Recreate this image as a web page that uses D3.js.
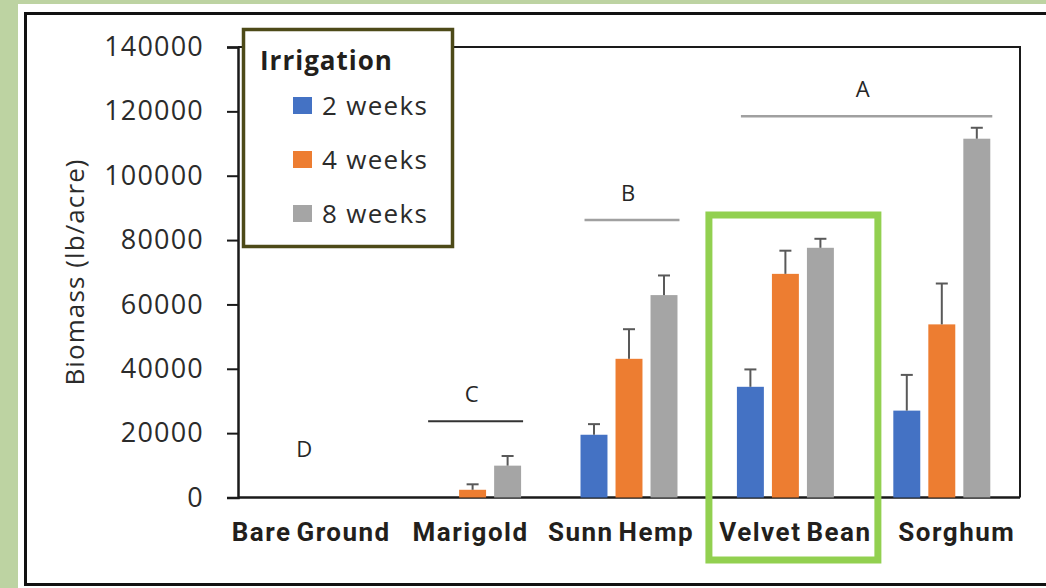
<!DOCTYPE html>
<html>
<head>
<meta charset="utf-8">
<script src="https://cdn.jsdelivr.net/npm/d3@7"></script>
<style>
  body { margin: 0; background: #fff; }
  svg { display: block; }
</style>
</head>
<body>
<div id="chart"></div>
<script>
// chart values
var crops = ["Bare Ground", "Marigold", "Sunn Hemp", "Velvet Bean", "Sorghum"];
var series = ["2 weeks", "4 weeks", "8 weeks"];
var colors = ["#4472c4", "#ed7d31", "#a5a5a5"];
var week2 = [0, 0, 19500, 34400, 27000];
var week4 = [0, 2400, 43100, 69500, 53800];
var week8 = [0, 9900, 62900, 77600, 111500];
var err2 = [0, 0, 3300, 5400, 11100];
var err4 = [0, 1700, 9200, 7200, 12700];
var err8 = [0, 3000, 6100, 2800, 3400];
var yTicks = [0, 20000, 40000, 60000, 80000, 100000, 120000, 140000];
// significance groups
var sigLetters = ["D", "C", "B", "A"];
var sigFrom = ["Bare Ground", "Marigold", "Sunn Hemp", "Velvet Bean"];
var sigTo = ["Bare Ground", "Marigold", "Sunn Hemp", "Sorghum"];
var sigLevel = [null, 23700, 86200, 118500];
var highlight = "Velvet Bean";

var wd = 1046, ht = 588;
var pLeft = 238, pRight = 1020, pTop = 47, pBottom = 497.5;
// labels in the original sit a little off their band centres
var labelShift = [-5, -2, -8, 10, 15];

var svg = d3.select('#chart')
	.append("svg")
	.attr("width", wd)
	.attr("height", ht);

// page background
svg.append('rect').attr('width', wd).attr('height', ht).attr('fill', '#bdd3a2');
svg.append('rect').attr('x', 18).attr('y', 4).attr('width', wd).attr('height', ht)
	.attr('fill', '#ffffff');
svg.append('rect').attr('x', 25.5).attr('y', 13.5).attr('width', wd).attr('height', 571)
	.attr('fill', 'none').attr('stroke', '#111').attr('stroke-width', 3);

var x0 = d3.scaleBand().domain(crops).range([pLeft, pRight])
	.paddingInner(0.38).paddingOuter(0.19);
var x1 = d3.scaleBand().domain(series).range([0, x0.bandwidth()])
	.paddingInner(0.23);
var y = d3.scaleLinear().domain([0, 140000]).range([pBottom, pTop]);

// plot frame
svg.append('path')
	.attr('d', 'M' + pLeft + ',' + pTop + 'H' + pRight + 'V' + pBottom)
	.attr('fill', 'none').attr('stroke', '#1a1a1a').attr('stroke-width', 2);

var yAxis = svg.append('g')
	.attr('transform', 'translate(' + pLeft + ',0)')
	.call(d3.axisLeft(y).tickValues(yTicks).tickSize(11).tickPadding(23)
		.tickFormat(d3.format('d')));
yAxis.select('.domain').attr('stroke', '#1a1a1a').attr('stroke-width', 2.5);
yAxis.selectAll('.tick line').attr('stroke', '#1a1a1a').attr('stroke-width', 2);
yAxis.selectAll('.tick text')
	.attr('font-family', 'Open Sans').attr('font-size', 27).attr('letter-spacing', 1.2)
	.attr('fill', '#2b2b2b');

svg.append('line')
	.attr('x1', pLeft).attr('x2', pRight).attr('y1', y(0)).attr('y2', y(0))
	.attr('stroke', '#1a1a1a').attr('stroke-width', 2.5);

svg.append('text')
	.attr('transform', 'translate(74,' + 272 + ') rotate(-90)')
	.attr('text-anchor', 'middle').attr('dominant-baseline', 'central')
	.attr('font-family', 'Open Sans').attr('font-size', 26).attr('letter-spacing', 1.1)
	.attr('fill', '#2b2b2b')
	.text('Biomass (lb/acre)');

// bars
var values = [week2, week4, week8];
var errs = [err2, err4, err8];
var rows = [];
crops.forEach(function (c, i) {
	series.forEach(function (s, j) {
		rows.push({crop: c, s: s, j: j, v: values[j][i], e: errs[j][i]});
	});
});

var groups = svg.selectAll('.grp').data(rows).enter().append('g')
	.attr('class', 'grp')
	.attr('transform', function (d) { return 'translate(' + (x0(d.crop) + x1(d.s)) + ',0)'; });

groups.filter(function (d) { return d.v > 0; }).append('rect')
	.attr('y', function (d) { return y(d.v); })
	.attr('width', x1.bandwidth())
	.attr('height', function (d) { return y(0) - y(d.v); })
	.attr('fill', function (d) { return colors[d.j]; });

var eb = groups.filter(function (d) { return d.e > 0; });
eb.append('line')
	.attr('x1', x1.bandwidth() / 2).attr('x2', x1.bandwidth() / 2)
	.attr('y1', function (d) { return y(d.v); })
	.attr('y2', function (d) { return y(d.v + d.e); })
	.attr('stroke', '#595959').attr('stroke-width', 2);
eb.append('line')
	.attr('x1', x1.bandwidth() / 2 - 6).attr('x2', x1.bandwidth() / 2 + 6)
	.attr('y1', function (d) { return y(d.v + d.e); })
	.attr('y2', function (d) { return y(d.v + d.e); })
	.attr('stroke', '#595959').attr('stroke-width', 2);

// category labels
svg.selectAll('.cat').data(crops).enter().append('text')
	.attr('class', 'cat')
	.attr('x', function (d, i) { return x0(d) + x0.bandwidth() / 2 + labelShift[i]; })
	.attr('y', 541)
	.attr('text-anchor', 'middle')
	.attr('font-family', 'Roboto').attr('font-weight', 'bold').attr('font-size', 26)
	.attr('letter-spacing', 1.5).attr('word-spacing', -3)
	.attr('fill', '#231f1c')
	.text(function (d) { return d; });

// significance letters and lines
sigLetters.forEach(function (l, i) {
	var a = x0(sigFrom[i]), b = x0(sigTo[i]) + x0.bandwidth();
	var lv = sigLevel[i];
	if (lv !== null) {
		svg.append('line')
			.attr('x1', a + 4).attr('x2', b + 2)
			.attr('y1', y(lv)).attr('y2', y(lv))
			.attr('stroke', l === 'C' ? '#333' : '#a0a0a0')
			.attr('stroke-width', l === 'C' ? 1.8 : 2.5);
	}
	svg.append('text')
		.attr('x', (a + b) / 2 - (lv === null ? 12 : 1))
		.attr('y', lv === null ? y(15500) : y(lv) - 28)
		.attr('text-anchor', 'middle').attr('dominant-baseline', 'central')
		.attr('font-family', 'Open Sans').attr('font-size', 22).attr('fill', '#262626')
		.text(l);
});

// highlight box
var hx = x0(highlight);
svg.append('rect')
	.attr('x', hx - 28).attr('y', 215)
	.attr('width', x0.bandwidth() + 72).attr('height', 345)
	.attr('fill', 'none').attr('stroke', '#92d050').attr('stroke-width', 7);

// legend
var lg = svg.append('g').attr('transform', 'translate(242,28)');
lg.append('rect').attr('x', 1.5).attr('y', 1.5).attr('width', 209).attr('height', 217)
	.attr('fill', '#fff').attr('stroke', '#4d4a18').attr('stroke-width', 3.5);
lg.append('text').attr('x', 18).attr('y', 42)
	.attr('font-family', 'Open Sans').attr('font-weight', 'bold').attr('font-size', 26)
	.attr('letter-spacing', 1)
	.attr('fill', '#231f1c').text('Irrigation');
var items = lg.selectAll('.li').data(series).enter().append('g')
	.attr('transform', function (d, i) { return 'translate(51,' + (77 + i * 54) + ')'; });
items.append('rect').attr('x', 0).attr('y', -8).attr('width', 19).attr('height', 17)
	.attr('fill', function (d, i) { return colors[i]; });
items.append('text').attr('x', 29).attr('y', 0).attr('dominant-baseline', 'central')
	.attr('font-family', 'Open Sans').attr('font-size', 26).attr('letter-spacing', 1.3)
	.attr('fill', '#2b2b2b')
	.text(function (d) { return d; });
</script>
</body>
</html>
